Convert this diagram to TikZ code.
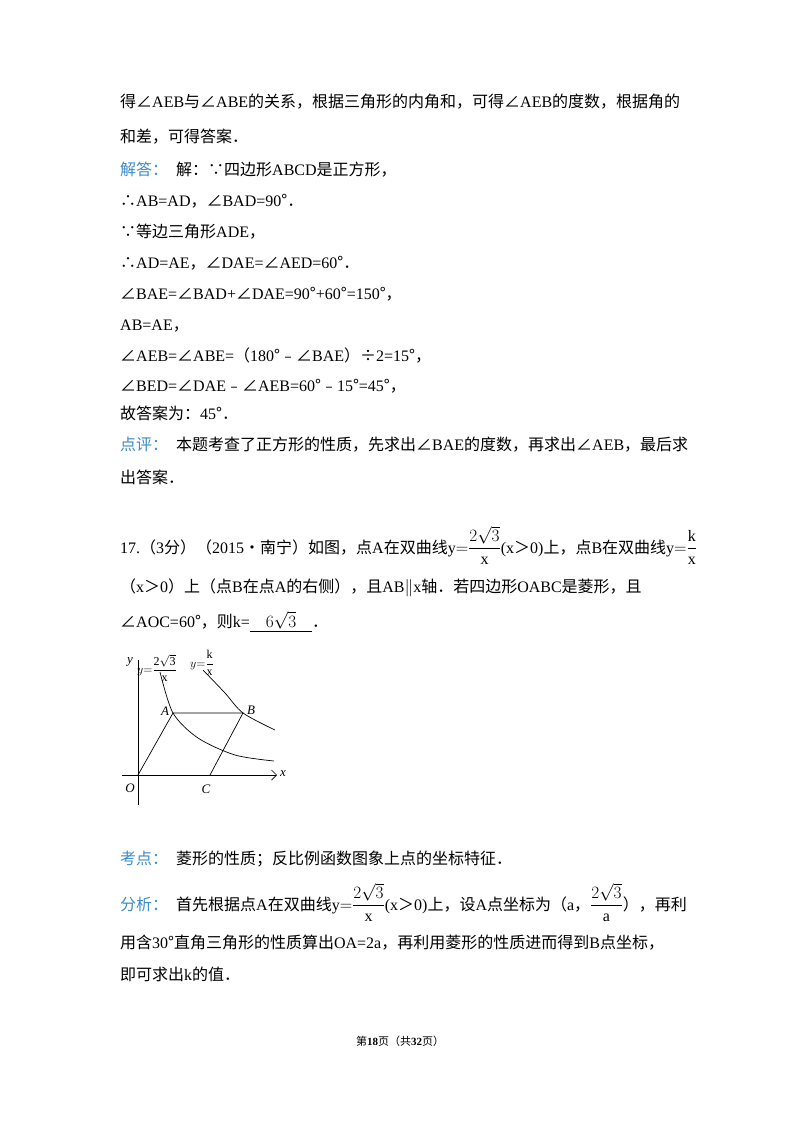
\documentclass[tikz,border=0pt]{standalone}
\usepackage{fontspec}
\usetikzlibrary{arrows.meta}
\setmainfont{Liberation Serif}
\newfontfamily\cjk{Noto Sans CJK SC}
\newcommand\zh[1]{{\cjk #1}}
\newcommand\dfr[2]{{\displaystyle\frac{#1}{#2}}}
\definecolor{hd}{RGB}{60,140,200}
\begin{document}
\begin{tikzpicture}[x=1pt,y=-1pt,
  tl/.style={anchor=base west,inner sep=0pt,font=\fontsize{16}{18}\selectfont},
  lab/.style={inner sep=0pt,font=\fontsize{13}{15}\selectfont\itshape},
  ax/.style={line width=0.7pt,-{Straight Barb[length=5pt]}},
  ln/.style={line width=0.7pt}]
\useasboundingbox (0,0) rectangle (800,1132);
\fill[white] (0,0) rectangle (800,1132);
\node[tl] (l1) at (120,107) {\zh{得∠}AEB\zh{与∠}ABE\zh{的关系，根据三角形的内角和，可得∠}AEB\zh{的度数，根据角的}};
\node[tl] (l2) at (120,142) {\zh{和差，可得答案．}};
\node[tl] (l3) at (120,175) {\textcolor{hd}{\zh{解答：}}\ \ \zh{解：∵四边形}ABCD\zh{是正方形，}};
\node[tl] (l4) at (120,206) {\zh{∴}AB=AD\zh{，∠}BAD=90\zh{°．}};
\node[tl] (l5) at (120,237) {\zh{∵等边三角形}ADE\zh{，}};
\node[tl] (l6) at (120,268) {\zh{∴}AD=AE\zh{，∠}DAE=\zh{∠}AED=60\zh{°．}};
\node[tl] (l7) at (120,299) {\zh{∠}BAE=\zh{∠}BAD+\zh{∠}DAE=90\zh{°}+60\zh{°}=150\zh{°，}};
\node[tl] (l8) at (120,330) {AB=AE\zh{，}};
\node[tl] (l9) at (120,361) {\zh{∠}AEB=\zh{∠}ABE=\zh{（}180\zh{°﹣∠}BAE\zh{）÷}2=15\zh{°，}};
\node[tl] (l10) at (120,391) {\zh{∠}BED=\zh{∠}DAE\zh{﹣∠}AEB=60\zh{°﹣}15\zh{°}=45\zh{°，}};
\node[tl] (l11) at (120,419) {\zh{故答案为：}45\zh{°．}};
\node[tl] (l12) at (120,450) {\textcolor{hd}{\zh{点评：}}\ \ \zh{本题考查了正方形的性质，先求出∠}BAE\zh{的度数，再求出∠}AEB\zh{，最后求}};
\node[tl] (l13) at (120,483) {\zh{出答案．}};
\node[tl] (q1) at (120,553) {17.\zh{（}3\zh{分）（}2015\zh{•南宁）如图，点}A\zh{在双曲线}$\mathrm{y}{=}\dfr{2\sqrt{3}}{\mathrm{x}}$(x\zh{＞}0)\zh{上，点}B\zh{在双曲线}$\mathrm{y}{=}\dfr{\mathrm{k}}{\mathrm{x}}$};
\node[tl] (q2) at (120,592) {\zh{（}x\zh{＞}0\zh{）上（点}B\zh{在点}A\zh{的右侧），且}AB$\|$x\zh{轴．若四边形}OABC\zh{是菱形，且}};
\node[tl] (q3) at (120,627) {\zh{∠}AOC=60\zh{°，则}k=\underline{\quad$6\sqrt{3}$\quad}\zh{．}};
% figure
\coordinate (O) at (138,775);
\coordinate (A) at (173,713);
\coordinate (B) at (243,713);
\coordinate (C) at (210,775);
\coordinate (xs) at (122,775); \coordinate (xe) at (277,775);
\coordinate (ys) at (138,805); \coordinate (ye) at (138,660);
\draw[ax] (xs) -- (xe);
\draw[ln] (ys) -- (ye);
\draw[ln] (O) -- (A) -- (B) -- (C);
\draw[ln] plot[smooth] coordinates {(160,672) (173,713) (198,738) (235,755) (274,761)};
\draw[ln] plot[smooth] coordinates {(203,670) (225,693) (243,713) (275,730)};
\node[lab] (ly) at (130,662) {y};
\node[lab,anchor=west] (f1) at (137,668) {\fontsize{12}{14}\selectfont$y{=}\dfr{\mathrm{2\sqrt{3}}}{\mathrm{x}}$};
\node[lab,anchor=west] (f2) at (190,663) {\fontsize{12}{14}\selectfont$y{=}\dfr{\mathrm{k}}{\mathrm{x}}$};
\node[lab] (lx) at (283,774) {x};
\node[lab] (lO) at (130,788) {O};
\node[lab] (lC) at (206,789) {C};
\node[lab] (lA) at (165,711) {A};
\node[lab] (lB) at (251,710) {B};
% analysis
\node[tl] (k1) at (120,864) {\textcolor{hd}{\zh{考点：}}\ \ \zh{菱形的性质；反比例函数图象上点的坐标特征．}};
\node[tl] (k2) at (120,910) {\textcolor{hd}{\zh{分析：}}\ \ \zh{首先根据点}A\zh{在双曲线}$\mathrm{y}{=}\dfr{2\sqrt{3}}{\mathrm{x}}$(x\zh{＞}0)\zh{上，设}A\zh{点坐标为（}a\zh{，}$\dfr{2\sqrt{3}}{\mathrm{a}}$\zh{），再利}};
\node[tl] (k3) at (120,948) {\zh{用含}30\zh{°直角三角形的性质算出}OA=2a\zh{，再利用菱形的性质进而得到}B\zh{点坐标，}};
\node[tl] (k4) at (120,980) {\zh{即可求出}k\zh{的值．}};
\node[anchor=base,inner sep=0pt,font=\fontsize{11}{13}\selectfont] (ft) at (400,1045) {\zh{第}\textbf{18}\zh{页（共}\textbf{32}\zh{页）}};
\end{tikzpicture}
\end{document}
